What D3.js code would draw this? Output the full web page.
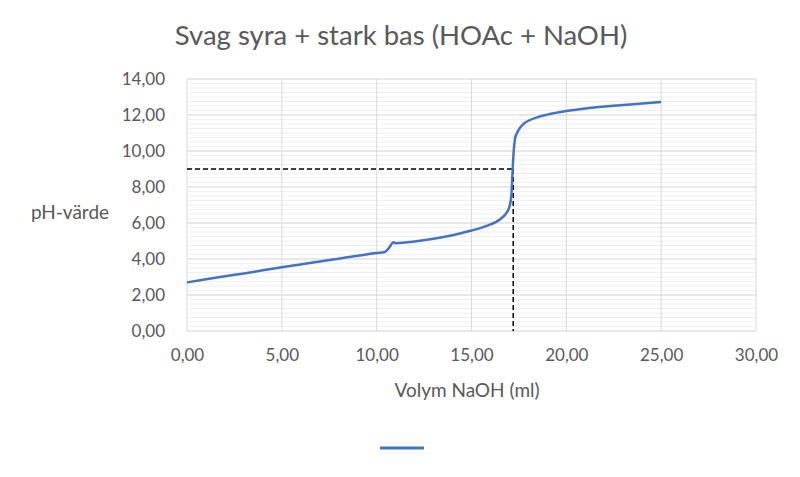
<!DOCTYPE html>
<html>
<head>
<meta charset="utf-8">
<script src="https://cdn.jsdelivr.net/npm/d3@7"></script>
<style>
  body { margin: 0; background: #fff; }
  text { font-family: Lato, "Open Sans", sans-serif; fill: #595959; }
</style>
</head>
<body>
<div id="chart"></div>
<script>
// volym NaOH (ml) och uppmätt pH
const volym = [0, 1, 2, 3, 4, 5, 6, 7, 8, 9, 10, 10.4, 10.6, 10.9, 11.0, 11.5, 12, 13, 14, 15, 15.5, 16, 16.5, 16.8,
  17.0, 17.1, 17.15, 17.2, 17.25, 17.3, 17.4, 17.6, 17.8, 18, 18.5, 19, 20, 21, 22, 23, 24, 25]
const ph = [2.70, 2.87, 3.04, 3.20, 3.37, 3.54, 3.70, 3.86, 4.02, 4.18, 4.33, 4.38, 4.55, 4.93, 4.88, 4.92, 4.97, 5.12, 5.32, 5.58, 5.73, 5.92, 6.20, 6.50,
  6.90, 7.50, 8.50, 9.60, 10.30, 10.70, 11.00, 11.35, 11.55, 11.68, 11.88, 12.02, 12.22, 12.36, 12.47, 12.56, 12.64, 12.72]

const xTicks = [0, 5, 10, 15, 20, 25, 30]
const yTicks = [0, 2, 4, 6, 8, 10, 12, 14]
const yMinor = d3.range(0, 14.01, 0.25)

// ekvivalenspunkt markerad med streckade linjer
const markX = 17.2
const markY = 9

const width = 800, height = 477
const margin = {left: 187, right: 44, top: 79, bottom: 146}

const svg = d3.select("#chart").append("svg")
    .attr("width", width)
    .attr("height", height)

const x = d3.scaleLinear().domain([0, 30]).range([margin.left, width - margin.right])
const y = d3.scaleLinear().domain([0, 14]).range([height - margin.bottom, margin.top])

const fmt = d => d.toFixed(2).replace(".", ",")

// minor gridlines
svg.append("g").selectAll("line").data(yMinor)
    .join("line")
    .attr("x1", x(0)).attr("x2", x(30))
    .attr("y1", d => y(d)).attr("y2", d => y(d))
    .attr("stroke", "#f0f0f0")
    .attr("stroke-width", 1)

// major gridlines
svg.append("g").selectAll("line").data(yTicks)
    .join("line")
    .attr("x1", x(0)).attr("x2", x(30))
    .attr("y1", d => y(d)).attr("y2", d => y(d))
    .attr("stroke", "#dadada")
svg.append("g").selectAll("line").data(xTicks)
    .join("line")
    .attr("y1", y(0)).attr("y2", y(14))
    .attr("x1", d => x(d)).attr("x2", d => x(d))
    .attr("stroke", "#dadada")

// axes with labels only
const yAxis = svg.append("g")
    .attr("transform", `translate(${x(0) - 19},0)`)
    .call(d3.axisLeft(y).tickValues(yTicks).tickFormat(fmt).tickSize(0))
yAxis.select(".domain").remove()
yAxis.selectAll("text").style("font-size", "17px").attr("fill", "#595959")

const xAxis = svg.append("g")
    .attr("transform", `translate(0,${y(0) + 15})`)
    .call(d3.axisBottom(x).tickValues(xTicks).tickFormat(fmt).tickSize(0))
xAxis.select(".domain").remove()
xAxis.selectAll("text").style("font-size", "17px").attr("fill", "#595959")

// dashed marker lines
svg.append("line")
    .attr("x1", x(0)).attr("x2", x(markX))
    .attr("y1", y(markY)).attr("y2", y(markY))
    .attr("stroke", "#000").attr("stroke-width", 1.5)
    .attr("stroke-dasharray", "5,3")
svg.append("line")
    .attr("x1", x(markX)).attr("x2", x(markX))
    .attr("y1", y(markY)).attr("y2", y(0))
    .attr("stroke", "#000").attr("stroke-width", 1.5)
    .attr("stroke-dasharray", "5,3")

// titration curve
const points = volym.map((v, i) => [v, ph[i]])
const line = d3.line()
    .x(d => x(d[0]))
    .y(d => y(d[1]))
    .curve(d3.curveMonotoneX)

svg.append("path")
    .datum(points)
    .attr("d", line)
    .attr("fill", "none")
    .attr("stroke", "#4472c4")
    .attr("stroke-width", 2.5)
    .attr("stroke-linejoin", "round")

// title
svg.append("text")
    .attr("x", 401).attr("y", 45)
    .attr("text-anchor", "middle")
    .style("font-size", "27.5px")
    .text("Svag syra + stark bas (HOAc + NaOH)")

// axis titles
svg.append("text")
    .attr("x", 467).attr("y", 397)
    .attr("text-anchor", "middle")
    .style("font-size", "19px")
    .text("Volym NaOH (ml)")

svg.append("text")
    .attr("x", 70).attr("y", 219)
    .attr("text-anchor", "middle")
    .style("font-size", "19px")
    .text("pH-värde")

// legend
svg.append("line")
    .attr("x1", 380).attr("x2", 424)
    .attr("y1", 448).attr("y2", 448)
    .attr("stroke", "#4472c4")
    .attr("stroke-width", 3)
</script>
</body>
</html>
